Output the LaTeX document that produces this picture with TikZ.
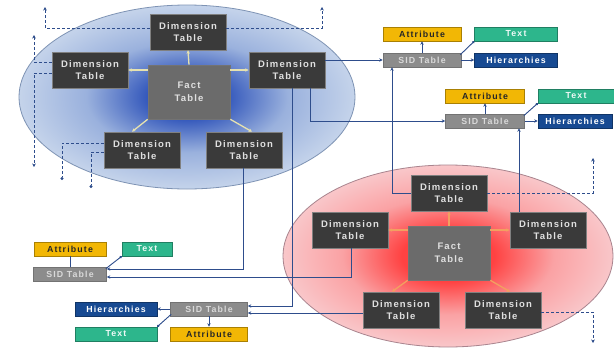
\documentclass[tikz,border=0pt]{standalone}
\usepackage{fontspec}
\setmainfont{Liberation Sans}
\newfontfamily\dimfont{Liberation Sans}[LetterSpace=12]
\newfontfamily\smallfont{Liberation Sans}[LetterSpace=13]
\usetikzlibrary{arrows.meta}
\definecolor{dimfill}{HTML}{3A3A3A}
\definecolor{factfill}{HTML}{6B6B6B}
\definecolor{sidfill}{HTML}{8C8C8C}
\definecolor{attrfill}{HTML}{F2B705}
\definecolor{textfill}{HTML}{2DB68C}
\definecolor{hierfill}{HTML}{174A92}
\definecolor{linkblue}{HTML}{2E4D8C}
\definecolor{blueout}{HTML}{C9D7EC}
\definecolor{bluemid}{HTML}{9AB1DD}
\definecolor{bluein}{HTML}{3559BC}
\definecolor{blueedge}{HTML}{7E93B4}
\definecolor{redout}{HTML}{F9D3D6}
\definecolor{redmid}{HTML}{FAA2A4}
\definecolor{redin}{HTML}{FF4242}
\definecolor{redge}{HTML}{A9848E}
\definecolor{paleyel}{HTML}{E6E2B0}
\definecolor{paleorg}{HTML}{F2A060}
\pgfdeclareradialshading{blueglow}{\pgfpoint{0bp}{0bp}}{color(0bp)=(bluein); color(6bp)=(bluein); color(15bp)=(bluemid); color(26bp)=(blueout); color(50bp)=(blueout)}
\pgfdeclareradialshading{redglow}{\pgfpoint{0bp}{0bp}}{color(0bp)=(redin); color(7bp)=(redin); color(16bp)=(redmid); color(28bp)=(redout); color(50bp)=(redout)}
\tikzset{
  dimbox/.style={draw=black!50, line width=0.6pt, fill=dimfill, text=white!88!black,
    font=\dimfont\bfseries\fontsize{9.5}{12.5}\selectfont, align=center,
    minimum width=76pt, minimum height=36pt, inner sep=0pt},
  factbox/.style={dimbox, fill=factfill, draw=black!55, minimum width=82pt, minimum height=54pt},
  smallbox/.style={line width=0.6pt, font=\smallfont\bfseries\fontsize{8.8}{10}\selectfont,
    minimum height=14pt, inner sep=0pt},
  sidbox/.style={smallbox, fill=sidfill, draw=black!55, text=white!85!black},
  attrbox/.style={smallbox, fill=attrfill, draw=attrfill!70!black, text=black!85},
  textbox/.style={smallbox, fill=textfill, draw=textfill!70!black, text=white!92!textfill},
  hierbox/.style={smallbox, fill=hierfill, draw=hierfill!70!black, text=white},
  link/.style={draw=linkblue, line width=0.9pt, -{Stealth[length=3.5pt,width=3.5pt]}},
  plain/.style={draw=linkblue, line width=0.9pt},
  dashlink/.style={draw=linkblue, line width=0.9pt, dash pattern=on 3pt off 2pt, -{Stealth[length=3.5pt,width=3.5pt]}},
  dashdot/.style={draw=linkblue, line width=0.9pt, dash pattern=on 3pt off 2pt, -{Circle[length=3pt]}},
  bfarrow/.style={draw=paleyel, line width=1.3pt, -{Stealth[length=3.5pt,width=3.5pt]}},
  rfarrow/.style={draw=paleorg, line width=1.3pt, -{Stealth[length=3.5pt,width=3.5pt]}},
}
\begin{document}
\begin{tikzpicture}[x=1pt,y=-1pt]
\useasboundingbox (0,0) rectangle (614,351);
\fill[white] (0,0) rectangle (614,351);
% ellipses
\shadedraw[shading=blueglow, draw=blueedge, line width=0.8pt] (187,97) ellipse [x radius=168pt, y radius=92pt];
\shadedraw[shading=redglow, draw=redge, line width=0.8pt] (448,256) ellipse [x radius=165pt, y radius=91pt];
% blue star
\node[dimbox] (bT) at (188,32) {Dimension\\Table};
\node[dimbox] (bL) at (90,70) {Dimension\\Table};
\node[dimbox] (bR) at (287,70) {Dimension\\Table};
\node[factbox] (bF) at (189,92) {Fact\\Table};
\node[dimbox] (bBL) at (142,150) {Dimension\\Table};
\node[dimbox] (bBR) at (244,150) {Dimension\\Table};
% red star
\node[dimbox] (rT) at (449,193) {Dimension\\Table};
\node[dimbox] (rL) at (350,230) {Dimension\\Table};
\node[dimbox] (rR) at (548,230) {Dimension\\Table};
\node[factbox] (rF) at (449,253) {Fact\\Table};
\node[dimbox] (rBL) at (401,310) {Dimension\\Table};
\node[dimbox] (rBR) at (503,310) {Dimension\\Table};
% SID group A
\node[attrbox, minimum width=78pt] (attrA) at (422,34) {Attribute};
\node[textbox, minimum width=83pt] (textA) at (516,34) {Text};
\node[sidbox, minimum width=78pt] (sidA) at (422,60) {SID Table};
\node[hierbox, minimum width=83pt] (hierA) at (516,60) {Hierarchies};
% SID group B
\node[attrbox, minimum width=79pt] (attrB) at (485,96) {Attribute};
\node[textbox, minimum width=76pt] (textB) at (576,96) {Text};
\node[sidbox, minimum width=79pt] (sidB) at (485,121) {SID Table};
\node[hierbox, minimum width=74pt] (hierB) at (575,121) {Hierarchies};
% SID group C
\node[attrbox, minimum width=72pt] (attrC) at (70,249) {Attribute};
\node[textbox, minimum width=50pt] (textC) at (147,249) {Text};
\node[sidbox, minimum width=73pt] (sidC) at (70,274) {SID Table};
% SID group D
\node[hierbox, minimum width=82pt] (hierD) at (116,309) {Hierarchies};
\node[sidbox, minimum width=77pt] (sidD) at (209,309) {SID Table};
\node[textbox, minimum width=82pt] (textD) at (116,334) {Text};
\node[attrbox, minimum width=77pt] (attrD) at (209,334) {Attribute};
% fact -> dimension arrows
\draw[bfarrow] (bF.north) -- (bT.south);
\draw[bfarrow] (bF.west |- bL.east) -- (bL.east);
\draw[bfarrow] (bF.east |- bR.west) -- (bR.west);
\draw[bfarrow] (bF.south west) -- ([xshift=-10pt]bBL.north);
\draw[bfarrow] (bF.south east) -- ([xshift=8pt]bBR.north);
\draw[rfarrow] (rF.north) -- (rT.south);
\draw[rfarrow] (rF.west |- rL.east) -- (rL.east);
\draw[rfarrow] (rF.east |- rR.west) -- (rR.west);
\draw[rfarrow] (rF.south west) -- ([xshift=-9pt]rBL.north);
\draw[rfarrow] (rF.south east) -- ([xshift=7pt]rBR.north);
% SID internal links
\draw[link] (sidA.north) -- (attrA.south);
\draw[plain, -{Circle[length=2.5pt]}] ([xshift=-1pt,yshift=-2pt]sidA.north east) -- (textA.south west);
\draw[link] (sidA.east) -- (hierA.west);
\draw[link] (sidB.north) -- (attrB.south);
\draw[plain, -{Circle[length=2.5pt]}] ([xshift=-1pt,yshift=-2pt]sidB.north east) -- (textB.south west);
\draw[link] (sidB.east) -- (hierB.west);
\draw[plain] (sidC.north) -- (attrC.south);
\draw[plain, -{Circle[length=2.5pt]}] ([xshift=-1pt,yshift=-2pt]sidC.north east) -- (textC.south west);
\draw[link] (sidD.west) -- (hierD.east);
\draw[link] (sidD.south) -- (attrD.north);
\draw[plain, -{Circle[length=2.5pt]}] ([xshift=1pt,yshift=2pt]sidD.south west) -- (textD.north east);
% dimension -> SID links
\draw[link] (bR.east |- sidA.west) -- (sidA.west);
\draw[link] ([xshift=23pt]bR.south) |- (sidB.west);
\draw[link] ([xshift=5pt]bR.south) |- ([yshift=3pt]sidD.east);
\draw[link] ([xshift=-1pt]bBR.south) |- ([yshift=5pt]sidC.east);
\draw[link] ([xshift=1pt]rL.south) |- ([yshift=-3pt]sidC.east);
\coordinate (d2) at ([yshift=-4pt]sidD.east);
\draw[link] (rBL.west |- d2) -- (d2);
\draw[link] (rT.west) -| ([xshift=-30pt]sidA.south);
\coordinate (b8) at ([xshift=34pt]sidB.south);
\draw[link] (rR.north -| b8) -- (b8);
% dashed outgoing links
\coordinate (e1) at (45,7);
\coordinate (e2) at (322,7);
\coordinate (e3) at (34,35);
\coordinate (e4) at (34,167);
\coordinate (e5) at (62,180);
\coordinate (e6) at (91,188);
\coordinate (e7) at (593,158);
\coordinate (e8) at (593,343);
\draw[dashlink] ([yshift=4pt]bT.west) -| (e1);
\draw[dashlink] ([yshift=4pt]bT.east) -| (e2);
\draw[dashlink] ([yshift=8pt]bL.west) -| (e3);
\draw[dashlink] ([yshift=-3pt]bL.west) -| (e4);
\draw[dashdot] ([yshift=7pt]bBL.west) -| (e5);
\draw[dashdot] ([yshift=-2pt]bBL.west) -| (e6);
\draw[dashlink] (rT.east) -| (e7);
\draw[dashlink] ([yshift=-2pt]rBR.east) -| (e8);
\end{tikzpicture}
\end{document}
